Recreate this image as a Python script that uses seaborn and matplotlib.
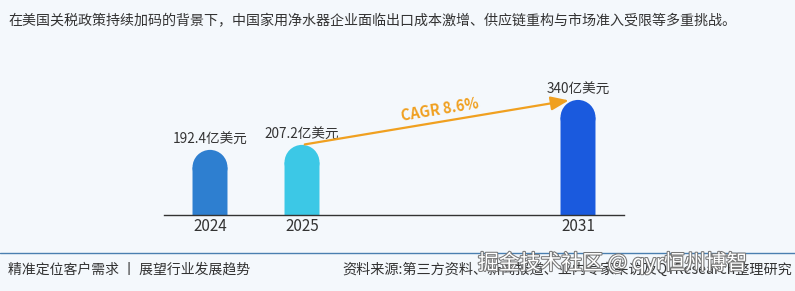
import matplotlib
matplotlib.use("Agg")
import matplotlib.pyplot as plt
import seaborn as sns
import pandas as pd
from matplotlib.patches import Ellipse
import matplotlib.patheffects as pe

sns.set_theme(style="white")
plt.rcParams['font.family'] = ['Noto Sans CJK SC', 'DejaVu Sans']

categories = ["2024", "2025", " ", "  ", "2031"]
values = [192.4, 207.2, 0, 0, 340]
labels = ["192.4亿美元", "207.2亿美元", "", "", "340亿美元"]
colors = ["#2e7fd0", "#3cc8e6", "#ffffff", "#ffffff", "#1a5ade"]
title = "在美国关税政策持续加码的背景下，中国家用净水器企业面临出口成本激增、供应链重构与市场准入受限等多重挑战。"
cagr_text = "CAGR 8.6%"
footer_left = "精准定位客户需求 丨 展望行业发展趋势"
footer_right = "资料来源:第三方资料、新闻报道、业内专家采访及QYResearch整理研究"
watermark = "掘金技术社区 @ qyr恒州博智"

W, H = 795, 291
bg = "#f4f8fc"
fig = plt.figure(figsize=(W / 100, H / 100), dpi=100, facecolor=bg)
ax = fig.add_axes([164 / W, 76 / H, 460 / W, 155 / H])
ax.set_facecolor("none")

df = pd.DataFrame({"year": categories, "value": values})
sns.barplot(data=df, x="year", y="value", hue="year", palette=colors,
            legend=False, width=0.38, ax=ax, saturation=1)
ax.set_ylim(0, 458)
ax.set_xlim(-0.5, 4.5)
fig.canvas.draw()

# rounded tops
px_per_unit_y = ax.transData.transform((0, 1))[1] - ax.transData.transform((0, 0))[1]
px_per_unit_x = ax.transData.transform((1, 0))[0] - ax.transData.transform((0, 0))[0]
for p, v, c in zip(list(ax.patches), values, colors):
    if v <= 0:
        p.set_visible(False)
        continue
    x0, w = p.get_x(), p.get_width()
    r_px = w * px_per_unit_x / 2
    r_y = r_px / px_per_unit_y
    p.set_height(v - r_y)
    p.set_edgecolor("none")
    p.set_linewidth(0)
    p.set_snap(False)
    e = Ellipse((x0 + w / 2, v - r_y), w, 2 * r_y, facecolor=c, edgecolor="none", linewidth=0)
    ax.add_patch(e)

for i, (v, lab) in enumerate(zip(values, labels)):
    if lab:
        ax.text(i, v + 10, lab, ha="center", va="bottom", fontsize=9.8, color="#333333")

# CAGR arrow
ax.annotate("", xy=(3.93, 340), xytext=(1.0, 207.2),
            arrowprops=dict(arrowstyle="-|>,head_length=0.9,head_width=0.35",
                            color="#f0a020", lw=1.6))
ax.text(2.5, 312, cagr_text, rotation=9.5, ha="center", va="center",
        fontsize=10.5, fontweight="bold", color="#f0a020")

sns.despine(ax=ax, left=True)
ax.spines["bottom"].set_color("#333333")
ax.spines["bottom"].set_linewidth(1.0)
ax.spines["bottom"].set_zorder(5)
ax.set_yticks([])
ax.set_xlabel("")
ax.set_ylabel("")
ax.tick_params(axis="x", length=0, labelsize=11, labelcolor="#333333", pad=2)

fig.text(8 / W, 1 - 21 / H, title, fontsize=10.1, color="#333333", va="center", ha="left")
fig.add_artist(plt.Line2D([0, 1], [1 - 253 / H, 1 - 253 / H], color="#4a7fb0", lw=1.0,
                          transform=fig.transFigure))
fig.text(8 / W, 1 - 270 / H, footer_left, fontsize=10, color="#333333", va="center", ha="left")
fig.text(792 / W, 1 - 270 / H, footer_right, fontsize=10.2, color="#333333", va="center", ha="right")
fig.text(478 / W, 1 - 263 / H, watermark, fontsize=15, color="white", va="center", ha="left",
         path_effects=[pe.withStroke(linewidth=1.5, foreground="#777777")])

fig.savefig("out.png", dpi=100, facecolor=bg)
